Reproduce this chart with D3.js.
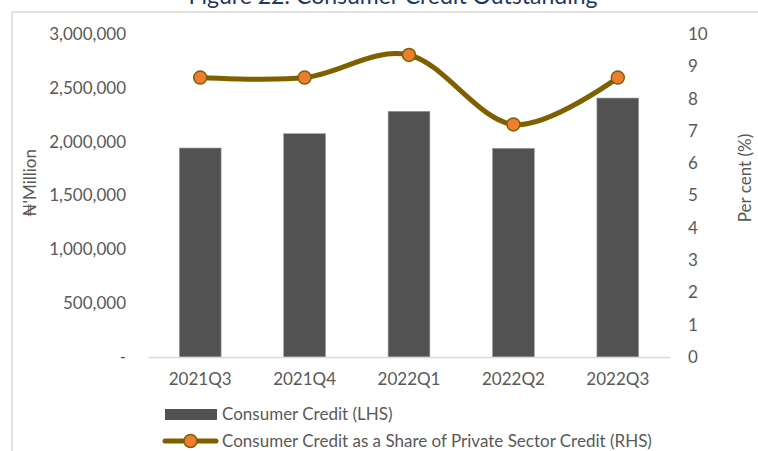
<!DOCTYPE html>
<html>
<head>
<meta charset="utf-8">
<script src="https://cdn.jsdelivr.net/npm/d3@7"></script>
<style>
  html, body { margin: 0; padding: 0; background: #fff; }
  svg { display: block; font-family: Lato, "Open Sans", "DejaVu Sans", sans-serif; }
</style>
</head>
<body>
<svg id="chart" width="758" height="451"></svg>
<script>
// Quarterly consumer credit (₦'Million) and its share of private sector credit (%)
const categories = ["2021Q3", "2021Q4", "2022Q1", "2022Q2", "2022Q3"];
const consumerCredit = [1941000, 2074000, 2282000, 1938000, 2405000];
const sharePct = [8.65, 8.65, 9.35, 7.2, 8.65];
const leftTicks = [0, 500000, 1000000, 1500000, 2000000, 2500000, 3000000];
const rightTicks = [0, 1, 2, 3, 4, 5, 6, 7, 8, 9, 10];

const svg = d3.select("#chart");
const barColor = "#525252";
const lineColor = "#7F6000";
const markerColor = "#ED7D31";
const textColor = "#595959";
const fontSize = 17;

// Title (sits partly above the visible frame)
svg.append("text")
  .attr("x", 393).attr("y", 4)
  .attr("text-anchor", "middle")
  .attr("font-size", 23)
  .attr("fill", "#1F3864")
  .text("Figure 22: Consumer Credit Outstanding");

// Frame lines
svg.append("line").attr("x1", 12).attr("x2", 758).attr("y1", 12).attr("y2", 12)
  .attr("stroke", "#d9d9d9").attr("stroke-width", 1.5);
svg.append("line").attr("x1", 12).attr("x2", 12).attr("y1", 12).attr("y2", 451)
  .attr("stroke", "#d9d9d9").attr("stroke-width", 1.5);

const x = d3.scaleBand().domain(categories).range([148, 670])
  .paddingInner(0.6).paddingOuter(0.3);
const yL = d3.scaleLinear().domain([0, 3000000]).range([357, 34]);
const yR = d3.scaleLinear().domain([0, 10]).range([357, 34]);

// Left axis
const fmt = d3.format(",");
const leftAxis = svg.append("g").attr("transform", "translate(126,0)")
  .call(d3.axisLeft(yL).tickValues(leftTicks).tickSize(0).tickPadding(0)
    .tickFormat(d => d === 0 ? "-" : fmt(d)));
leftAxis.select(".domain").remove();
leftAxis.selectAll("text").attr("font-size", fontSize).attr("fill", textColor)
  .attr("font-family", "Lato, 'Open Sans', sans-serif");

// Right axis
const rightAxis = svg.append("g").attr("transform", "translate(688,0)")
  .call(d3.axisRight(yR).tickValues(rightTicks).tickSize(0).tickPadding(0));
rightAxis.select(".domain").remove();
rightAxis.selectAll("text").attr("font-size", fontSize).attr("fill", textColor)
  .attr("font-family", "Lato, 'Open Sans', sans-serif");

// Bars
svg.append("g").selectAll("rect").data(categories).join("rect")
  .attr("x", d => x(d))
  .attr("width", x.bandwidth())
  .attr("y", (d, i) => yL(consumerCredit[i]))
  .attr("height", (d, i) => yL(0) - yL(consumerCredit[i]))
  .attr("fill", barColor)
  .attr("stroke", "#9a9a9a").attr("stroke-width", 0.6);

// Category axis
const xAxis = svg.append("g").attr("transform", "translate(0,357)")
  .call(d3.axisBottom(x).tickSize(0).tickPadding(16));
xAxis.select(".domain").attr("stroke", "#d9d9d9").attr("stroke-width", 1.5);
xAxis.selectAll("text").attr("font-size", fontSize).attr("fill", textColor)
  .attr("font-family", "Lato, 'Open Sans', sans-serif");

// Smoothed share line with markers
const pts = categories.map((c, i) => [x(c) + x.bandwidth() / 2, yR(sharePct[i])]);
svg.append("path")
  .attr("d", d3.line().curve(d3.curveCatmullRom.alpha(0))(pts))
  .attr("fill", "none").attr("stroke", lineColor).attr("stroke-width", 5)
  .attr("stroke-linecap", "round");
svg.append("g").selectAll("circle").data(pts).join("circle")
  .attr("cx", d => d[0]).attr("cy", d => d[1]).attr("r", 6.5)
  .attr("fill", markerColor).attr("stroke", lineColor).attr("stroke-width", 1.5);

// Axis titles
svg.append("text")
  .attr("transform", "translate(36,183) rotate(-90)")
  .attr("text-anchor", "middle").attr("font-size", fontSize).attr("fill", textColor)
  .text("₦'Million");
svg.append("text")
  .attr("transform", "translate(751,178) rotate(-90)")
  .attr("text-anchor", "middle").attr("font-size", fontSize).attr("fill", textColor)
  .text("Per cent (%)");

// Legend
const lg = svg.append("g");
lg.append("rect").attr("x", 165).attr("y", 409).attr("width", 52).attr("height", 11)
  .attr("fill", barColor);
lg.append("text").attr("x", 222).attr("y", 414.5).attr("dy", "0.35em")
  .attr("font-size", fontSize).attr("fill", textColor).text("Consumer Credit (LHS)");
lg.append("line").attr("x1", 165).attr("x2", 216).attr("y1", 441).attr("y2", 441)
  .attr("stroke", lineColor).attr("stroke-width", 5).attr("stroke-linecap", "round");
lg.append("circle").attr("cx", 190.5).attr("cy", 441).attr("r", 6.5)
  .attr("fill", markerColor).attr("stroke", lineColor).attr("stroke-width", 1.5);
lg.append("text").attr("x", 222).attr("y", 441).attr("dy", "0.35em")
  .attr("font-size", fontSize).attr("fill", textColor)
  .text("Consumer Credit as a Share of Private Sector Credit (RHS)");
</script>
</body>
</html>
